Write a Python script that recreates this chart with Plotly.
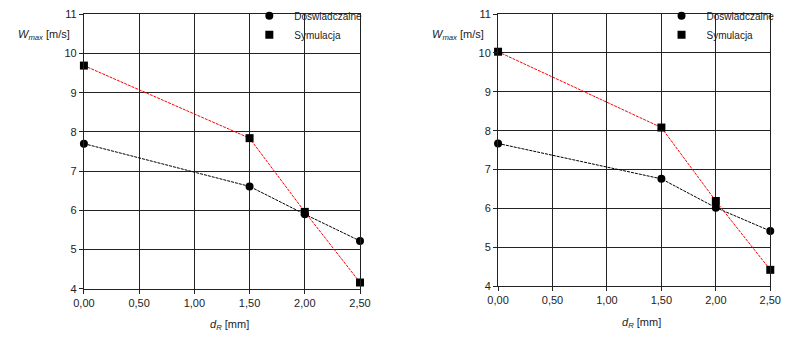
import plotly.graph_objects as go

x_vals = [0.0, 1.5, 2.0, 2.5]
left_exp = [7.70, 6.61, 5.90, 5.22]
left_sim = [9.69, 7.84, 5.96, 4.16]
right_exp = [7.67, 6.76, 6.02, 5.42]
right_sim = [10.03, 8.08, 6.19, 4.42]
x_ticks = [0.0, 0.5, 1.0, 1.5, 2.0, 2.5]
y_ticks = [4, 5, 6, 7, 8, 9, 10, 11]
name_exp = "Doswiadczalne"
name_sim = "Symulacja"

W, H = 791, 344
FONT = "Liberation Sans, Arial, sans-serif"
TXT = "#222222"

fig = go.Figure()

def add_panel(xa, ya, legend, exp, sim):
    fig.add_trace(go.Scatter(x=x_vals, y=exp, mode="lines", xaxis=xa, yaxis=ya,
                             line=dict(color="black", width=1, dash="3px,1px"),
                             showlegend=False, cliponaxis=False, hoverinfo="skip"))
    fig.add_trace(go.Scatter(x=x_vals, y=sim, mode="lines", xaxis=xa, yaxis=ya,
                             line=dict(color="#ff0000", width=1, dash="3px,1px"),
                             showlegend=False, cliponaxis=False, hoverinfo="skip"))
    fig.add_trace(go.Scatter(x=x_vals, y=exp, mode="markers", xaxis=xa, yaxis=ya,
                             name=name_exp, legend=legend,
                             marker=dict(symbol="circle", size=8, color="black"),
                             cliponaxis=False))
    fig.add_trace(go.Scatter(x=x_vals, y=sim, mode="markers", xaxis=xa, yaxis=ya,
                             name=name_sim, legend=legend,
                             marker=dict(symbol="square", size=8, color="black"),
                             cliponaxis=False))

add_panel("x", "y", "legend", left_exp, left_sim)
add_panel("x2", "y2", "legend2", right_exp, right_sim)

def xaxis(domain, anchor):
    return dict(domain=domain, anchor=anchor, range=[0, 2.5], tickvals=x_ticks,
                tickformat=".2f", showgrid=True, gridcolor="#222222", gridwidth=1,
                showline=True, linecolor="#222222", linewidth=1, mirror=True,
                ticks="outside", ticklen=4, tickcolor="#222222",
                tickfont=dict(family=FONT, size=11, color=TXT), zeroline=False)

def yaxis(domain, anchor):
    return dict(domain=domain, anchor=anchor, range=[4, 11], tickvals=y_ticks,
                showgrid=True, gridcolor="#222222", gridwidth=1,
                showline=True, linecolor="#222222", linewidth=1, mirror=True,
                ticks="outside", ticklen=4, tickcolor="#222222",
                tickfont=dict(family=FONT, size=11, color=TXT), zeroline=False)

lx0, lx1 = 75 / W, 359 / W
rx0, rx1 = 501 / W, 781 / W
ly0, ly1 = 1 - 293 / H, 1 - 8.5 / H
ry0, ry1 = 1 - 290.3 / H, 1 - 8.3 / H

legend_style = dict(font=dict(family=FONT, size=10, color=TXT), bgcolor="rgba(0,0,0,0)",
                    xanchor="left", yanchor="top", tracegroupgap=0, itemsizing="trace",
                    itemwidth=40, borderwidth=0)

fig.update_layout(
    width=W, height=H,
    margin=dict(l=0, r=0, t=0, b=0),
    paper_bgcolor="white", plot_bgcolor="white",
    separators=", ",
    font=dict(family=FONT, color=TXT),
    xaxis=xaxis([lx0, lx1], "y"),
    yaxis=yaxis([ly0, ly1], "x"),
    xaxis2=xaxis([rx0, rx1], "y2"),
    yaxis2=yaxis([ry0, ry1], "x2"),
    legend=dict(x=(262 - 22) / W, y=1 + 5 / H, **legend_style),
    legend2=dict(x=(686 - 22) / W, y=1 + 5 / H, **legend_style),
    showlegend=True,
)

ann_font = dict(family=FONT, size=11, color=TXT)
for xr, yr, txt, anchor in [
    (63, 30, "<i>W</i><sub><i>max</i></sub> [m/s]", "right"),
    (489, 30, "<i>W</i><sub><i>max</i></sub> [m/s]", "right"),
    (225, 331, "<i>d</i><sub><i>R</i></sub> [mm]", "center"),
    (649, 328, "<i>d</i><sub><i>R</i></sub> [mm]", "center"),
]:
    fig.add_annotation(text=txt, xref="paper", yref="paper", x=xr / W, y=1 - yr / H,
                       xanchor=anchor, yanchor="middle", showarrow=False, font=ann_font)

fig.write_html("out.html")
